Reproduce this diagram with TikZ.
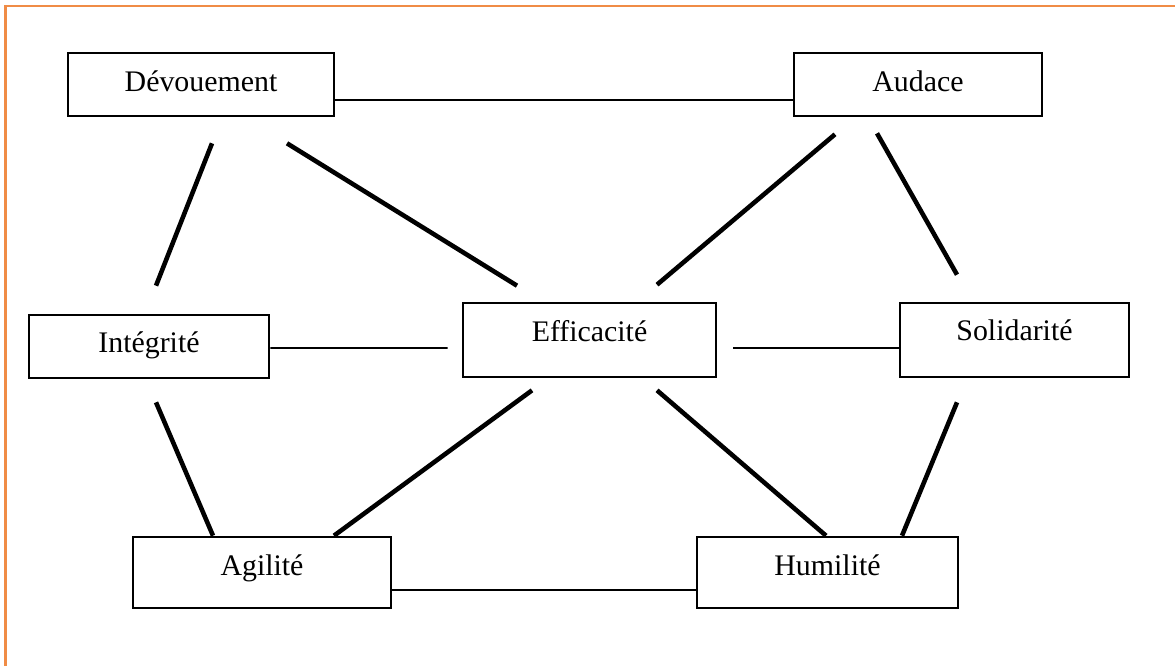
\documentclass[tikz,border=0pt]{standalone}
\usepackage{fontspec}
\setmainfont{Liberation Serif}
\usepackage{xcolor}
\usepackage{tikz}
\usetikzlibrary{positioning}
\usetikzlibrary{calc}
\definecolor{cadre}{RGB}{240,140,70}
\tikzstyle{valeur}=[rectangle,draw,line width=1.5pt,fill=white,inner sep=0pt,text height=0.4cm,font=\fontsize{17}{20}\selectfont]
\tikzstyle{edge} = [draw,line width=2.6pt]
\tikzstyle{midedge} = [draw,line width=1.7pt]
\tikzstyle{thinedge} = [draw,line width=0.9pt]

\begin{document}
\begin{tikzpicture}[x=0.02cm,y=-0.02cm]

  \useasboundingbox (0,0) rectangle (1175,666);
  \draw[cadre, line width=1.2pt] (5.5,666) -- (5.5,6) -- (1175,6);

   \foreach \x/\y/\w/\h/\d/\name/\label in {201/84.5/266/63/0.1/dev/Dévouement, 918/84.5/248/63/0.1/aud/Audace, 149/346.5/240/63/0.18/int/Intégrité}
          \node[valeur, minimum width=\w*0.02cm, minimum height=\h*0.02cm, text depth=\d cm] (\name) at (\x,\y) {\label};

   \foreach \x/\y/\w/\h/\d/\name/\label in {589.5/340/253/74/0.36/eff/Efficacité, 1014.5/340/229/74/0.4/sol/Solidarité}
          \node[valeur, minimum width=\w*0.02cm, minimum height=\h*0.02cm, text depth=\d cm] (\name) at (\x,\y) {\label};

   \foreach \x/\y/\w/\h/\d/\name/\label in {262/572.5/258/71/0.3/agi/Agilité, 827.5/572.5/261/71/0.3/hum/Humilité}
          \node[valeur, minimum width=\w*0.02cm, minimum height=\h*0.02cm, text depth=\d cm] (\name) at (\x,\y) {\label};


  \foreach \source/\sx/\sy/\dest/\tx/\ty in {dev.south/11/26/int.north/7/-28, dev.south/86/26/eff.north/-72.5/-16, aud.south/-83/17/eff.north/67.5/-17, aud.south/-41/16/sol.north/-57.5/-27}
         \path[edge] ([shift={(\sx,\sy)}]\source) -- ([shift={(\tx,\ty)}]\dest);

  \foreach \source/\sx/\sy/\dest/\tx/\ty in {int.south/7/23/agi.north/-49/0, eff.south/-57.5/12/agi.north/72/0, eff.south/67.5/12/hum.north/-1.5/0, sol.south/-57.5/24/hum.north/74.5/0}
         \path[edge] ([shift={(\sx,\sy)}]\source) -- ([shift={(\tx,\ty)}]\dest);

  \path[midedge] ([shift={(0,15.5)}]dev.east) -- ([shift={(0,15.5)}]aud.west);

  \foreach \source/\sx/\sy/\dest/\tx/\ty in {int.east/0/1.5/eff.west/-14/8, eff.east/16/8/sol.west/0/8, agi.east/0/17.5/hum.west/0/17.5}
         \path[thinedge] ([shift={(\sx,\sy)}]\source) -- ([shift={(\tx,\ty)}]\dest);

   \end{tikzpicture}
\end{document}
